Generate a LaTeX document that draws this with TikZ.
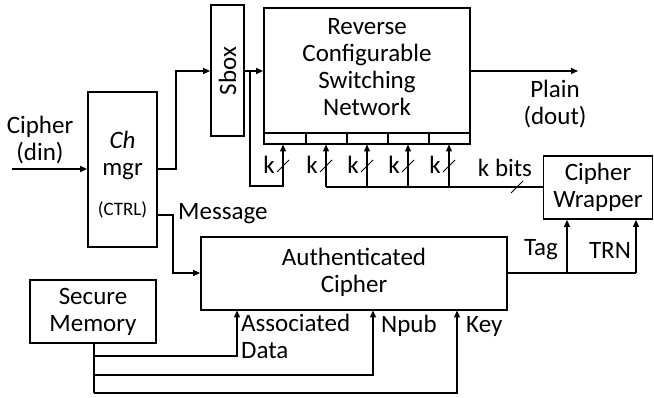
\documentclass[tikz,border=0pt]{standalone}
\usepackage{fontspec}
\setmainfont{Carlito}
\usetikzlibrary{arrows.meta}
\begin{document}
\begin{tikzpicture}[x=1pt,y=-1pt,
  box/.style={draw,line width=1.8pt,inner sep=0pt},
  seg/.style={draw,line width=1.3pt},
  conn/.style={line width=1.3pt},
  bus/.style={line width=2.2pt},
  arr/.style={conn,-{Triangle[length=7pt,width=6pt]}},
  lbl/.style={font=\fontsize{25}{27}\selectfont,inner sep=0pt,align=center},
  sml/.style={font=\fontsize{19}{20}\selectfont,inner sep=0pt}]
\useasboundingbox (0,0) rectangle (654,398);

% boxes
\node[box,minimum width=69pt,minimum height=155pt] (ch) at (122.5,169.5) {};
\node[box,minimum width=33pt,minimum height=131pt] (sbox) at (227.5,70.5) {};
\node[box,minimum width=206pt,minimum height=125pt] (rcsn) at (367,70.5) {};
\node[box,minimum width=126pt,minimum height=63pt] (sec) at (93,311.5) {};
\node[box,minimum width=306pt,minimum height=73pt] (auth) at (354,273.5) {};
\node[box,minimum width=109pt,minimum height=63pt] (wrap) at (598,187.5) {};

% strip segments under RCSN
\foreach \i/\a/\b in {1/264/306,2/306/347,3/347/388,4/388/429,5/429/470}
  \node[seg,minimum width={\b-\a},minimum height=11pt,inner sep=0pt] (s\i) at ({(\a+\b)/2},138.5) {};

% texts
\node[lbl] (tch) at (122.5,155) {\textit{Ch}\\mgr};
\node[sml] (tctrl) at (122.5,210) {(CTRL)};
\node[lbl,rotate=90] (tsbox) at (227.5,71) {Sbox};
\node[lbl] (trcsn) at (367,67) {Reverse\\Configurable\\Switching\\Network};
\node[lbl] (tsec) at (93,311.5) {Secure\\Memory};
\node[lbl] (tauth) at (354,272) {Authenticated\\Cipher};
\node[lbl] (twrap) at (598,187.5) {Cipher\\Wrapper};
\node[lbl] (tcin) at (40,140) {Cipher\\(din)};
\node[lbl] (tplain) at (555,104) {Plain\\(dout)};
\node[lbl,anchor=west] (tmsg) at (178,214) {Message};
\node[lbl,anchor=north west,align=left] (tad) at (241,314) {Associated\\Data};
\node[lbl,anchor=west] (tnpub) at (381,326) {Npub};
\node[lbl,anchor=west] (tkey) at (466,326) {Key};
\node[lbl] (ttag) at (541,250) {Tag};
\node[lbl] (ttrn) at (610,250) {TRN};
\node[lbl] (tkbits) at (505,168) {k bits};

% input
\coordinate (cin) at (12,169);
\draw[arr] (cin) -- (ch.west |- cin);
% ch -> sbox
\coordinate (c1) at (176,71);
\draw[arr] (ch.east |- cin) -| (c1) -- (sbox.west |- c1);
% sbox -> rcsn
\draw[arr] (sbox.east |- c1) -- (rcsn.west |- c1);
\coordinate (br) at (250,71);
\coordinate (bd) at (250,186);
\draw[arr] (br) -- (bd) -| (283,144.5);
% plain out
\coordinate (pout) at (578,71);
\draw[arr] (rcsn.east |- c1) -- (pout);

% key bus
\coordinate (kb1) at (326,187);
\coordinate (kb2) at (367,187);
\draw[conn] (kb1) -- (kb2);
\draw[bus] (kb2) -- (wrap.west |- kb2);
\foreach \x in {326,367,408,449}
  \draw[arr] (\x,187) -- (\x,144.5);
\foreach \x/\n in {283/a,326/b,367/c,408/d,449/e}{
  \draw[line width=0.9pt] (\x-6,172) -- (\x+6,160);
  \node[lbl] (k\n) at (\x-14,165) {k};
}
\draw[line width=0.9pt] (511,193) -- (523,181);

% message
\coordinate (m1) at (173,215);
\coordinate (m2) at (173,273);
\draw[arr] (ch.east |- m1) -- (m1) -- (m2) -- (auth.west |- m2);

% secure memory
\coordinate (sv) at (94,393);
\draw[conn] (sec.south -| sv) -- (sv);
\draw[arr] (94,356) -| (237,310.5);
\draw[arr] (94,375) -| (373,310.5);
\draw[arr] (sv) -| (457,310.5);

% tag / trn
\coordinate (t1) at (567,273);
\coordinate (t2) at (636,273);
\draw[bus] (auth.east |- t1) -- (t1);
\draw[conn] (t1) -- (t2);
\draw[arr] (t1) -- (t1 |- wrap.south);
\draw[arr] (t2) -- (t2 |- wrap.south);
\end{tikzpicture}
\end{document}
